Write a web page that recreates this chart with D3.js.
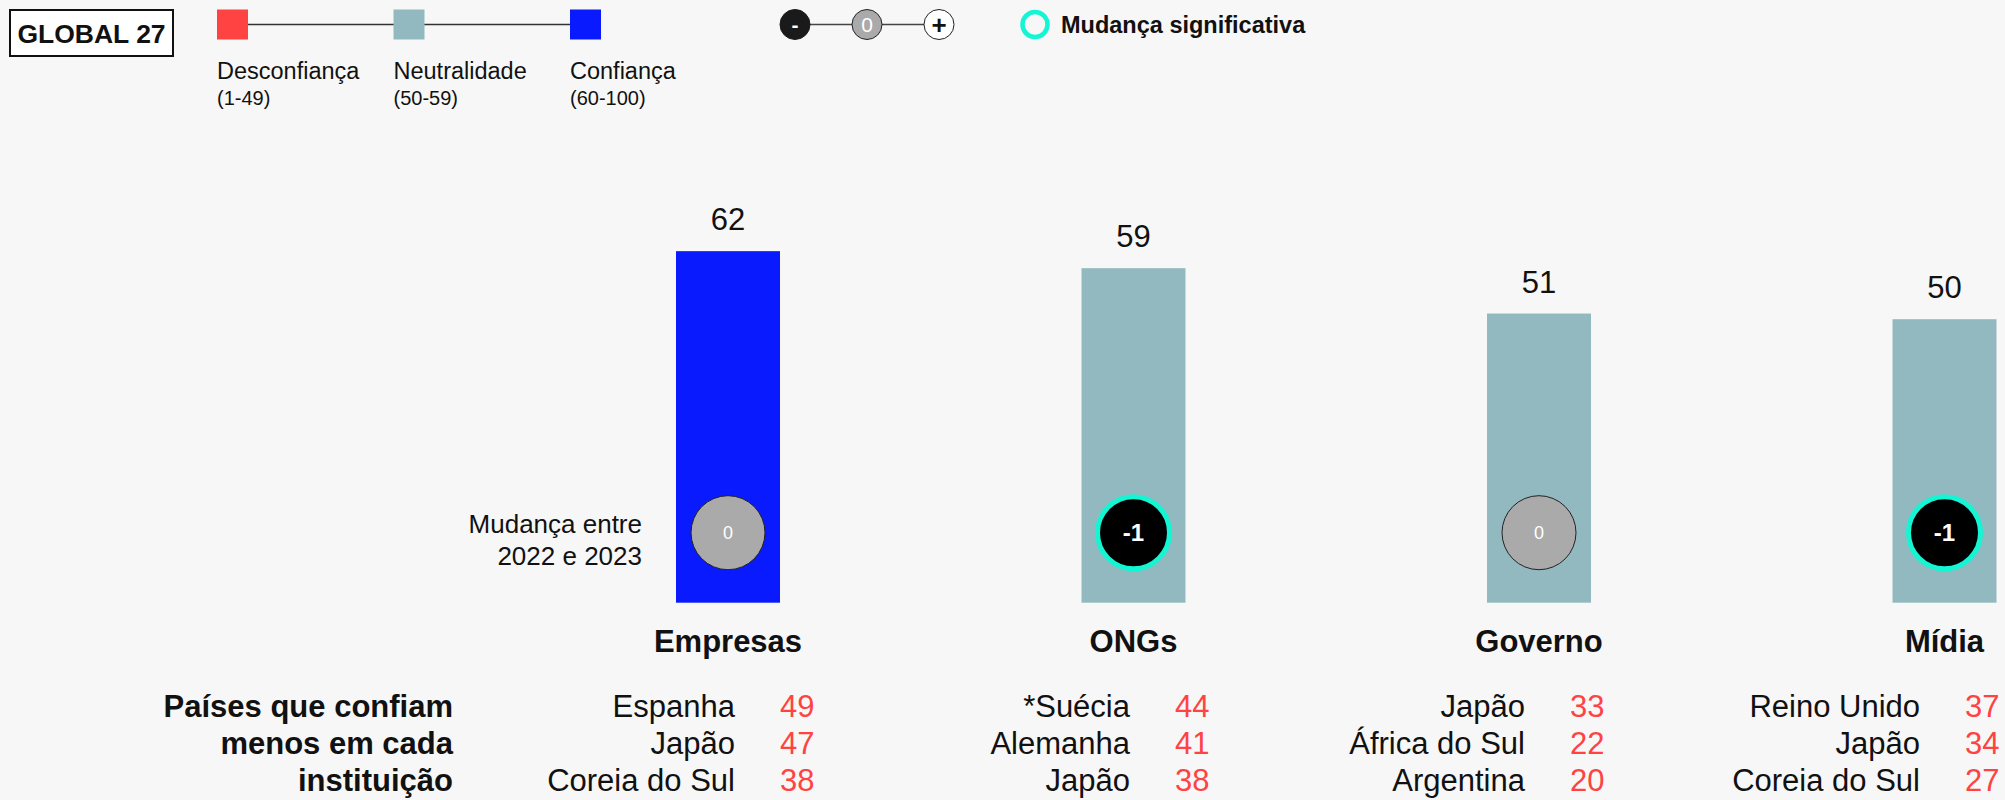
<!DOCTYPE html>
<html>
<head>
<meta charset="utf-8">
<script src="https://cdn.jsdelivr.net/npm/d3@7"></script>
<style>
  html, body { margin: 0; padding: 0; background: #f7f7f7; }
  svg { display: block; font-family: "Liberation Sans", Arial, Helvetica, sans-serif; }
</style>
</head>
<body>
<svg id="chart" width="2005" height="800"></svg>
<script>
// ---------- DATA ----------
const categories = ["Empresas", "ONGs", "Governo", "Mídia"];
const trustValues = [62, 59, 51, 50];
const changeValues = [0, -1, 0, -1];
const significantChange = [false, true, false, true];
const lowestCountries = [
  ["Espanha", "Japão", "Coreia do Sul"],
  ["*Suécia", "Alemanha", "Japão"],
  ["Japão", "África do Sul", "Argentina"],
  ["Reino Unido", "Japão", "Coreia do Sul"]
];
const lowestValues = [
  [49, 47, 38],
  [44, 41, 38],
  [33, 22, 20],
  [37, 34, 27]
];
const legendLabels = ["Desconfiança", "Neutralidade", "Confiança"];
const legendRanges = ["(1-49)", "(50-59)", "(60-100)"];
const legendThresholds = [50, 60];
const changeLegendSymbols = ["-", "0", "+"];
const titleText = "GLOBAL 27";
const significantLabel = "Mudança significativa";
const changeCaption = ["Mudança entre", "2022 e 2023"];
const tableCaption = ["Países que confiam", "menos em cada", "instituição"];

// ---------- STYLE ----------
const COLORS = { red: "#ff4343", teal: "#93b9c0", blue: "#0a1aff", cyan: "#14f5d3", gray: "#aaaaaa" };

const svg = d3.select("#chart");
svg.append("rect").attr("width", 2005).attr("height", 800).attr("fill", "#f7f7f7");

const color = d3.scaleThreshold().domain(legendThresholds).range([COLORS.red, COLORS.teal, COLORS.blue]);

// ---------- SCALES ----------
const x = d3.scalePoint().domain(categories).range([728, 1944.5]).padding(0);
const y = d3.scaleLinear().domain([0, 100]).range([602.7, 35.7]);
const barW = 104;
const tableX = d3.scalePoint().domain(categories).range([780, 1965]).padding(0);

const data = categories.map((c, i) => ({
  cat: c, value: trustValues[i], change: changeValues[i], sig: significantChange[i],
  countries: lowestCountries[i], lows: lowestValues[i]
}));

// ---------- HEADER LEGEND ----------
const hdr = svg.append("g");
hdr.append("rect").attr("x", 10).attr("y", 10).attr("width", 163).attr("height", 46)
  .attr("fill", "#ffffff").attr("stroke", "#111").attr("stroke-width", 2);
hdr.append("text").attr("x", 91.5).attr("y", 42.5).attr("text-anchor", "middle")
  .attr("font-size", 26.5).attr("font-weight", "bold").attr("fill", "#111").text(titleText);

const legX = d3.scalePoint().domain(legendLabels).range([217, 570]);
const legendColors = [COLORS.red, COLORS.teal, COLORS.blue];
hdr.append("line").attr("x1", legX(legendLabels[0]) + 15).attr("x2", legX(legendLabels[2]) + 15)
  .attr("y1", 24.5).attr("y2", 24.5).attr("stroke", "#333").attr("stroke-width", 1.5);
legendLabels.forEach((l, i) => {
  const lx = legX(l);
  hdr.append("rect").attr("x", lx).attr("y", 9.5).attr("width", 31).attr("height", 30).attr("fill", legendColors[i]);
  hdr.append("text").attr("x", lx).attr("y", 79).attr("font-size", 23.5).attr("fill", "#111").text(l);
  hdr.append("text").attr("x", lx).attr("y", 105).attr("font-size", 20).attr("fill", "#111").text(legendRanges[i]);
});

// change legend
const cx = d3.scalePoint().domain(changeLegendSymbols).range([795, 939]);
hdr.append("line").attr("x1", cx("-")).attr("x2", cx("+")).attr("y1", 24.5).attr("y2", 24.5)
  .attr("stroke", "#444").attr("stroke-width", 1.5);
const symStyle = {
  "-": { fill: "#1a1a1a", stroke: "#1a1a1a", text: "#ffffff", weight: "bold" },
  "0": { fill: COLORS.gray, stroke: "#222", text: "#ffffff", weight: "normal" },
  "+": { fill: "#ffffff", stroke: "#222", text: "#111", weight: "bold" }
};
changeLegendSymbols.forEach(s => {
  const st = symStyle[s];
  hdr.append("circle").attr("cx", cx(s)).attr("cy", 24.5).attr("r", 15)
    .attr("fill", st.fill).attr("stroke", st.stroke).attr("stroke-width", 1);
  hdr.append("text").attr("x", cx(s)).attr("y", 24.5).attr("dy", "0.35em").attr("text-anchor", "middle")
    .attr("font-size", s === "+" ? 26 : 21).attr("font-weight", st.weight).attr("fill", st.text).text(s);
});
hdr.append("circle").attr("cx", 1035).attr("cy", 24.5).attr("r", 12.5)
  .attr("fill", "none").attr("stroke", COLORS.cyan).attr("stroke-width", 4.5);
hdr.append("text").attr("x", 1061).attr("y", 33).attr("font-size", 23.5).attr("font-weight", "bold")
  .attr("fill", "#111").text(significantLabel);

// ---------- BARS ----------
const g = svg.append("g");
g.selectAll("rect.bar").data(data).join("rect").attr("class", "bar")
  .attr("x", d => x(d.cat) - barW / 2).attr("width", barW)
  .attr("y", d => y(d.value)).attr("height", d => y(0) - y(d.value))
  .attr("fill", d => color(d.value));

g.selectAll("text.val").data(data).join("text").attr("class", "val")
  .attr("x", d => x(d.cat)).attr("y", d => y(d.value) - 21)
  .attr("text-anchor", "middle").attr("font-size", 31).attr("fill", "#111")
  .text(d => d.value);

// change circles
const circY = y(0) - 70;
g.selectAll("circle.chg").data(data).join("circle").attr("class", "chg")
  .attr("cx", d => x(d.cat)).attr("cy", circY)
  .attr("r", d => d.sig ? 36 : 37)
  .attr("fill", d => d.change < 0 ? "#000" : (d.change > 0 ? "#fff" : COLORS.gray))
  .attr("stroke", d => d.sig ? COLORS.cyan : "#222")
  .attr("stroke-width", d => d.sig ? 5 : 1);
g.selectAll("text.chg").data(data).join("text").attr("class", "chg")
  .attr("x", d => x(d.cat)).attr("y", circY).attr("dy", "0.35em").attr("text-anchor", "middle")
  .attr("font-size", d => d.sig ? 24 : 18).attr("font-weight", d => d.sig ? "bold" : "normal")
  .attr("fill", d => d.change > 0 ? "#111" : "#fff")
  .text(d => d.change);

// caption
changeCaption.forEach((t, i) => {
  g.append("text").attr("x", 642).attr("y", 532.5 + i * 32).attr("text-anchor", "end")
    .attr("font-size", 26).attr("fill", "#111").text(t);
});

// category labels
g.selectAll("text.cat").data(data).join("text").attr("class", "cat")
  .attr("x", d => x(d.cat)).attr("y", 651.5).attr("text-anchor", "middle")
  .attr("font-size", 31).attr("font-weight", "bold").attr("fill", "#111").text(d => d.cat);

// ---------- TABLE ----------
const rowY = d3.scalePoint().domain([0, 1, 2]).range([716.5, 790.5]);
tableCaption.forEach((t, i) => {
  g.append("text").attr("x", 453).attr("y", rowY(i)).attr("text-anchor", "end")
    .attr("font-size", 31).attr("font-weight", "bold").attr("fill", "#111").text(t);
});
data.forEach(d => {
  d.countries.forEach((c, i) => {
    g.append("text").attr("x", tableX(d.cat) - 45).attr("y", rowY(i)).attr("text-anchor", "end")
      .attr("font-size", 31).attr("fill", "#111").text(c);
    g.append("text").attr("x", tableX(d.cat)).attr("y", rowY(i)).attr("text-anchor", "start")
      .attr("font-size", 31).attr("fill", COLORS.red).text(d.lows[i]);
  });
});
</script>
</body>
</html>
